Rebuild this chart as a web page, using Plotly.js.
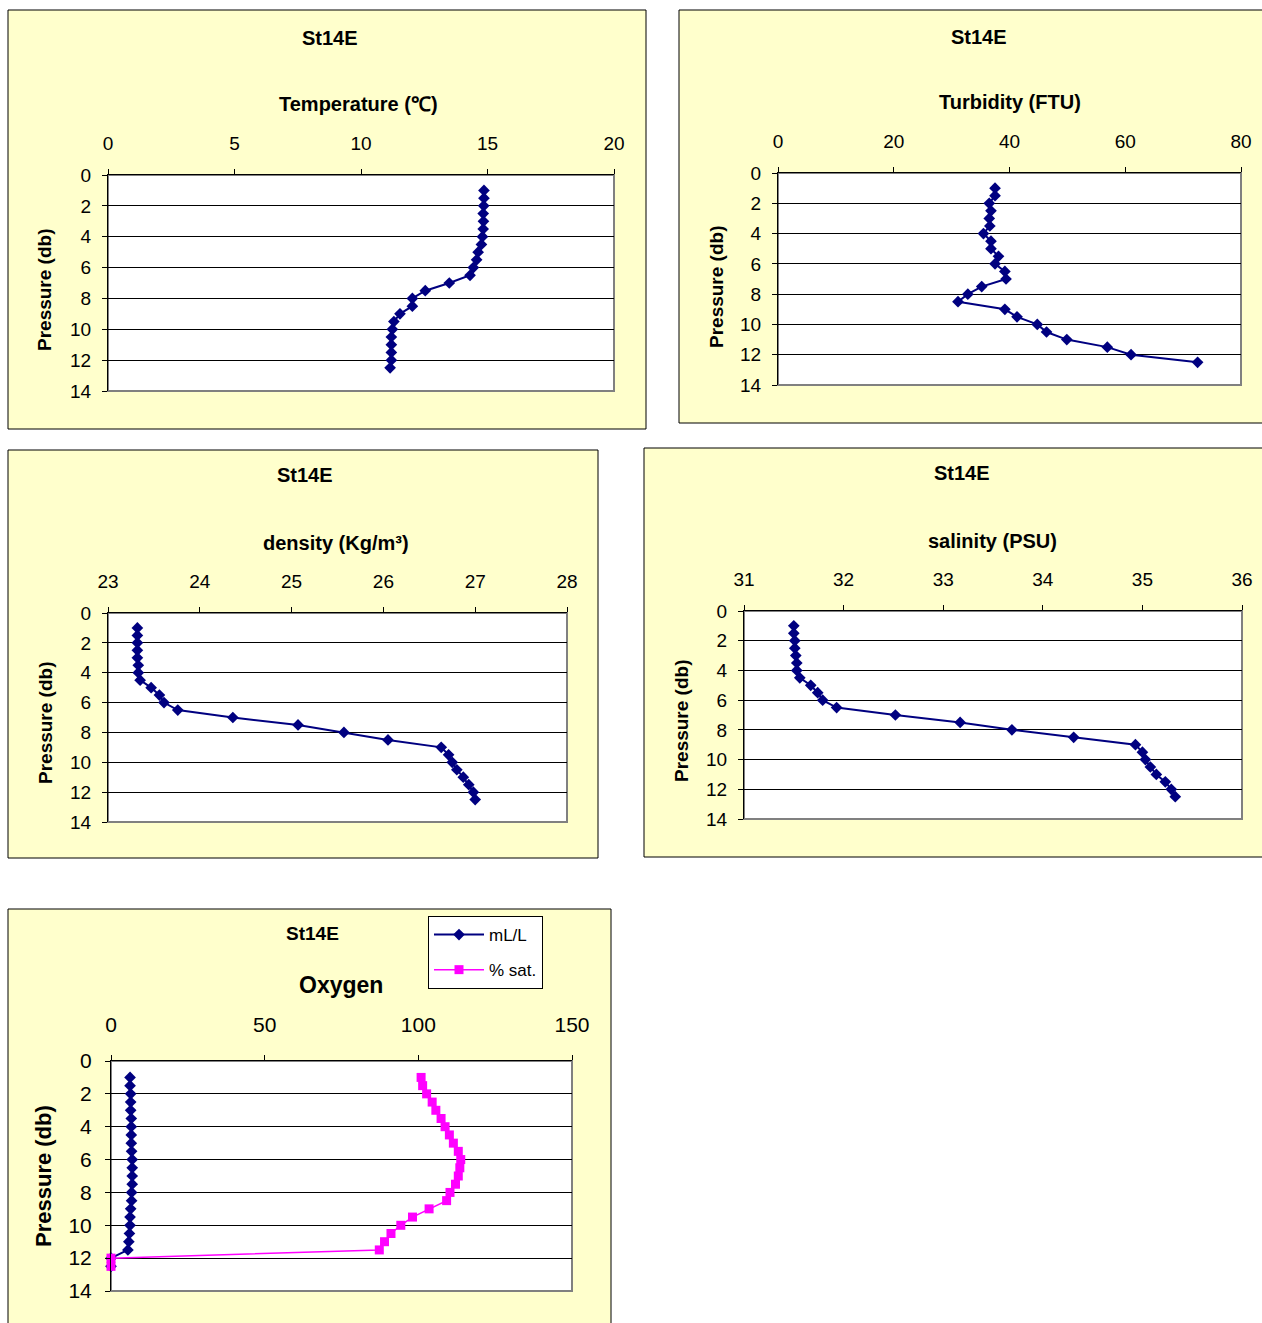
<!DOCTYPE html>
<html>
<head>
<meta charset="utf-8">
<script src="https://cdn.plot.ly/plotly-3.0.1.min.js"></script>
<style>
  html, body { margin: 0; padding: 0; background: #fff; }
  #chart { width: 1262px; height: 1323px; }
</style>
</head>
<body>
<div id="chart"></div>
<script>
// CTD cast St14E: profiles against pressure (db)
const pressure = [1, 1.5, 2, 2.5, 3, 3.5, 4, 4.5, 5, 5.5, 6, 6.5, 7, 7.5, 8, 8.5, 9, 9.5, 10, 10.5, 11, 11.5, 12, 12.5];

const temperature = [14.86, 14.86, 14.85, 14.83, 14.84, 14.83, 14.80, 14.76, 14.63, 14.57, 14.44, 14.31,
                     13.49, 12.54, 12.03, 12.03, 11.54, 11.30, 11.24, 11.20, 11.20, 11.20, 11.20, 11.15];

const turbidity = [37.5, 37.5, 36.5, 36.8, 36.5, 36.6, 35.5, 36.8, 36.8, 38.1, 37.5, 39.2,
                   39.4, 35.2, 32.8, 31.1, 39.2, 41.3, 44.8, 46.4, 49.9, 56.9, 61.0, 72.5];

const density = [23.32, 23.32, 23.32, 23.32, 23.32, 23.33, 23.33, 23.35, 23.47, 23.56, 23.61, 23.76,
                 24.36, 25.07, 25.57, 26.05, 26.63, 26.71, 26.75, 26.80, 26.87, 26.93, 26.98, 27.00];

const salinity = [31.50, 31.50, 31.51, 31.51, 31.52, 31.53, 31.53, 31.56, 31.67, 31.74, 31.79, 31.93,
                  32.52, 33.17, 33.69, 34.31, 34.93, 35.00, 35.03, 35.08, 35.14, 35.23, 35.29, 35.33];

const oxygenMlL = [6.2, 6.2, 6.4, 6.4, 6.4, 6.6, 6.6, 6.6, 6.6, 6.7, 6.9, 6.9,
                   6.9, 6.9, 6.7, 6.7, 6.4, 6.2, 6.2, 6.0, 5.8, 5.5, 0, 0];

const oxygenSat = [100.9, 101.4, 102.7, 104.5, 105.7, 107.4, 108.7, 110.1, 111.4, 113.0, 113.8, 113.5,
                   113.0, 112.1, 110.3, 109.2, 103.5, 98.1, 94.3, 91.1, 89.0, 87.3, 0, 0];

const stationName = 'St14E';
const yTitle = 'Pressure (db)';
const legendNames = ['mL/L', '% sat.'];
const pressureTicks = [0, 2, 4, 6, 8, 10, 12, 14];

// ---------------------------------------------------------------
const W = 1262, H = 1323;
const FONT = 'Liberation Sans, Arial, sans-serif';
const NAVY = '#000080', MAGENTA = '#FF00FF';
const px = v => v / W;
const py = v => 1 - v / H;

// Panel frames (pixels): chart box, plot area, title positions, fonts
const panels = [
  { box: [8, 10, 646, 429], plot: [108, 175, 614, 391], range: [0, 20], dtick: 5,
    head: [330, 38], title: 'Temperature (℃)', titlePos: [358, 104], yTitlePos: [45, 290],
    tick: 19, headSize: 20, titleSize: 20, ySize: 19, xStand: 11, yStand: 7 },
  { box: [679, 10, 1270, 423], plot: [778, 173, 1241, 385], range: [0, 80], dtick: 20,
    head: [979, 37], title: 'Turbidity (FTU)', titlePos: [1010, 102], yTitlePos: [716, 287],
    tick: 19, headSize: 20, titleSize: 20, ySize: 19, xStand: 11, yStand: 7 },
  { box: [8, 450, 598, 858], plot: [108, 613, 567, 822], range: [23, 28], dtick: 1,
    head: [305, 475], title: 'density (Kg/m³)', titlePos: [336, 543], yTitlePos: [45, 723],
    tick: 19, headSize: 20, titleSize: 20, ySize: 19, xStand: 11, yStand: 7 },
  { box: [644, 448, 1270, 857], plot: [744, 611, 1242, 819], range: [31, 36], dtick: 1,
    head: [962, 473], title: 'salinity (PSU)', titlePos: [993, 541], yTitlePos: [681, 721],
    tick: 19, headSize: 20, titleSize: 20, ySize: 19, xStand: 11, yStand: 7 },
  { box: [8, 909, 611, 1330], plot: [111, 1061, 572, 1291], range: [0, 150], dtick: 50,
    head: [312, 934], title: 'Oxygen', titlePos: [341, 985], yTitlePos: [43, 1176],
    tick: 21, headSize: 19, titleSize: 23, ySize: 22, xStand: 15, yStand: 9 }
];

const series = [
  [{ x: temperature, name: 'temperature' }],
  [{ x: turbidity, name: 'turbidity' }],
  [{ x: density, name: 'density' }],
  [{ x: salinity, name: 'salinity' }],
  [{ x: oxygenMlL, name: legendNames[0], legend: true },
   { x: oxygenSat, name: legendNames[1], legend: true, sat: true }]
];

const traces = [];
const layout = {
  width: W, height: H,
  margin: { l: 0, r: 0, t: 0, b: 0, pad: 0 },
  paper_bgcolor: '#ffffff',
  plot_bgcolor: 'rgba(0,0,0,0)',
  font: { family: FONT, color: '#000' },
  shapes: [], annotations: [],
  showlegend: true,
  legend: {
    x: px(428), y: py(916), xanchor: 'left', yanchor: 'top',
    bgcolor: '#ffffff', bordercolor: '#000000', borderwidth: 1,
    font: { family: FONT, size: 17, color: '#000' },
    traceorder: 'grouped', tracegroupgap: 10, itemwidth: 50
  }
};

function label(text, x, y, size, angle) {
  return {
    text: text, xref: 'paper', yref: 'paper',
    x: px(x), y: py(y), xanchor: 'center', yanchor: 'middle',
    textangle: angle || 0, showarrow: false,
    font: { family: FONT, size: size, color: '#000' }
  };
}

panels.forEach((p, i) => {
  const n = i === 0 ? '' : String(i + 1);
  const [bx0, by0, bx1, by1] = p.box;
  const [l, t, r, b] = p.plot;

  layout.shapes.push({
    type: 'rect', xref: 'paper', yref: 'paper', layer: 'below',
    x0: px(bx0), x1: px(bx1), y0: py(by1), y1: py(by0),
    fillcolor: '#FFFFCC', line: { color: '#000000', width: 1 }
  });
  layout.shapes.push({
    type: 'rect', xref: 'paper', yref: 'paper', layer: 'below',
    x0: px(l), x1: px(r), y0: py(b), y1: py(t),
    fillcolor: '#FFFFFF', line: { color: '#808080', width: 2 }
  });

  layout['xaxis' + n] = {
    domain: [px(l), px(r)], anchor: 'y' + n, side: 'top',
    range: p.range, tick0: p.range[0], dtick: p.dtick,
    ticks: 'outside', ticklen: 5, tickcolor: '#000', tickwidth: 1,
    showline: true, linecolor: '#000', linewidth: 1,
    showgrid: false, zeroline: false, fixedrange: true,
    tickfont: { family: FONT, size: p.tick, color: '#000' },
    ticklabelstandoff: p.xStand
  };
  layout['yaxis' + n] = {
    domain: [py(b), py(t)], anchor: 'x' + n,
    range: [14, 0], tickmode: 'array', tickvals: pressureTicks,
    ticks: 'outside', ticklen: 5, tickcolor: '#000', tickwidth: 1,
    showline: true, linecolor: '#000', linewidth: 1,
    showgrid: true, gridcolor: '#000', gridwidth: 1,
    zeroline: false, fixedrange: true,
    tickfont: { family: FONT, size: p.tick, color: '#000' },
    ticklabelstandoff: p.yStand
  };

  layout.annotations.push(label('<b>' + stationName + '</b>', p.head[0], p.head[1], p.headSize));
  layout.annotations.push(label('<b>' + p.title + '</b>', p.titlePos[0], p.titlePos[1], p.titleSize));
  layout.annotations.push(label('<b>' + yTitle + '</b>', p.yTitlePos[0], p.yTitlePos[1], p.ySize, -90));

  series[i].forEach(s => {
    const color = s.sat ? MAGENTA : NAVY;
    traces.push({
      type: 'scatter', mode: 'lines+markers',
      x: s.x, y: pressure, name: s.name,
      xaxis: 'x' + n, yaxis: 'y' + n,
      cliponaxis: false,
      showlegend: !!s.legend, legendgroup: s.name,
      line: { color: color, width: s.sat ? 1.5 : 2 },
      marker: s.sat
        ? { symbol: 'square', size: 9, color: color, line: { width: 0 } }
        : { symbol: 'diamond', size: 9, color: color, line: { width: 0 } },
      hoverinfo: 'skip'
    });
  });
});

Plotly.newPlot('chart', traces, layout, { staticPlot: true, displayModeBar: false });
</script>
</body>
</html>
